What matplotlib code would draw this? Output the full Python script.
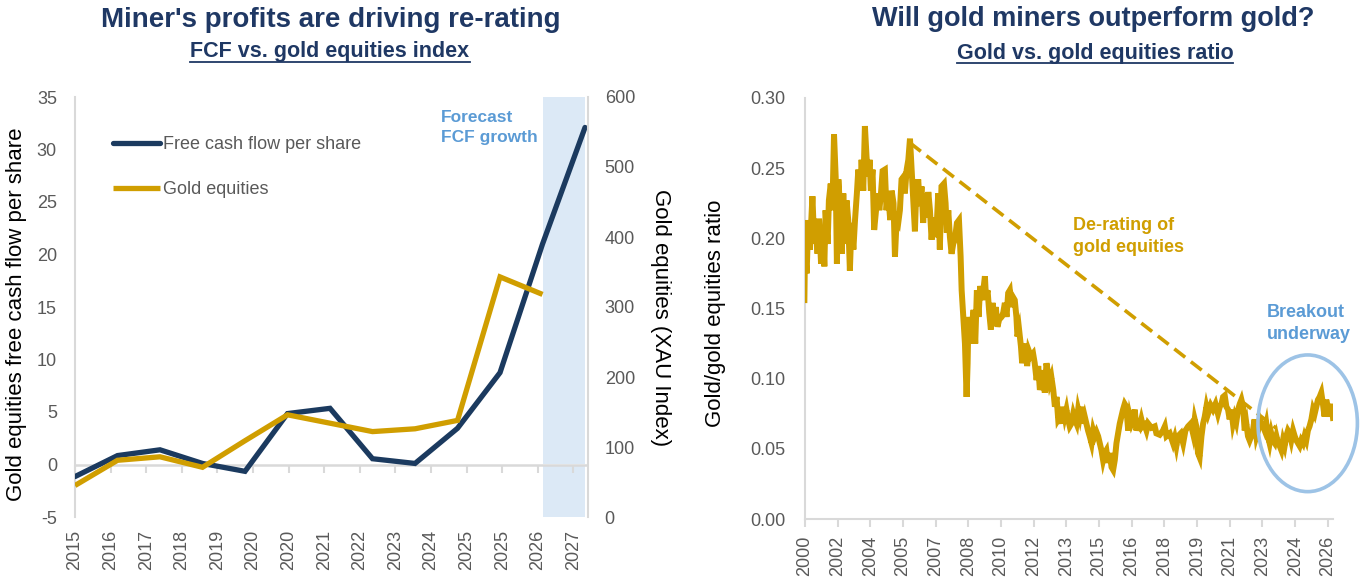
import numpy as np
import matplotlib.pyplot as plt
from matplotlib import font_manager
from matplotlib.patches import Ellipse
from matplotlib.lines import Line2D

names = {f.name for f in font_manager.fontManager.ttflist}
narrow = 'Liberation Sans Narrow' if 'Liberation Sans Narrow' in names else 'Liberation Sans'
plt.rcParams['font.family'] = ['Liberation Sans', 'DejaVu Sans']
plt.rcParams['axes.unicode_minus'] = False

NAVY = '#1B3A5F'
GOLD = '#D09E00'
TITLE = '#1F3864'
LBLUE = '#5B9BD5'
GREY = '#595959'
SPINE = '#D9D9D9'

# ---- left chart data
fcf_years = np.arange(2015, 2028)
fcf = [-1.15, 0.85, 1.4, 0.1, -0.65, 4.85, 5.35, 0.55, 0.1, 3.45, 8.75, 21.0, 32.1]
eq_years = np.arange(2015, 2027)
gold_eq = [45, 81, 86, 71, 109, 146, 134, 122, 126, 138, 343, 318]
left_labels = ['2015', '2016', '2017', '2018', '2019', '2020', '2020', '2021',
               '2022', '2023', '2024', '2025', '2025', '2026', '2027']

# ---- right chart data (gold / gold equities ratio)
ratio_years = [
    2000.87, 2000.90, 2000.98, 2001.06, 2001.14, 2001.26, 2001.35, 2001.42, 2001.51, 2001.58,
    2001.68, 2001.76, 2001.84, 2001.90, 2002.00, 2002.06, 2002.15, 2002.23, 2002.31, 2002.39,
    2002.45, 2002.52, 2002.60, 2002.68, 2002.76, 2002.84, 2002.92, 2003.00, 2003.08, 2003.16,
    2003.25, 2003.33, 2003.42, 2003.49, 2003.59, 2003.65, 2003.73, 2003.81, 2003.89, 2003.97,
    2004.04, 2004.10, 2004.18, 2004.26, 2004.35, 2004.43, 2004.51, 2004.59, 2004.67, 2004.78,
    2004.86, 2004.94, 2005.04, 2005.11, 2005.20, 2005.27, 2005.35, 2005.43, 2005.51, 2005.59,
    2005.69, 2005.75, 2005.84, 2005.92, 2006.00, 2006.08, 2006.16, 2006.24, 2006.30, 2006.40,
    2006.48, 2006.56, 2006.64, 2006.72, 2006.81, 2006.89, 2006.97, 2007.05, 2007.13, 2007.21,
    2007.29, 2007.37, 2007.45, 2007.53, 2007.65, 2007.73, 2007.79, 2007.86, 2007.94, 2008.02,
    2008.10, 2008.18, 2008.28, 2008.38, 2008.46, 2008.51, 2008.59, 2008.67, 2008.75, 2008.80,
    2008.84, 2008.93, 2008.99, 2009.09, 2009.17, 2009.25, 2009.33, 2009.41, 2009.51, 2009.64,
    2009.69, 2009.77, 2009.85, 2009.93, 2010.01, 2010.09, 2010.17, 2010.25, 2010.33, 2010.45,
    2010.53, 2010.61, 2010.69, 2010.77, 2010.85, 2010.93, 2011.01, 2011.09, 2011.17, 2011.22,
    2011.30, 2011.39, 2011.45, 2011.53, 2011.61, 2011.69, 2011.77, 2011.87, 2011.98, 2012.06,
    2012.15, 2012.23, 2012.31, 2012.39, 2012.47, 2012.55, 2012.63, 2012.71, 2012.79, 2012.87,
    2012.96, 2013.04, 2013.12, 2013.20, 2013.28, 2013.36, 2013.44, 2013.52, 2013.60, 2013.68,
    2013.76, 2013.84, 2013.93, 2014.01, 2014.09, 2014.17, 2014.25, 2014.33, 2014.41, 2014.49,
    2014.57, 2014.65, 2014.73, 2014.82, 2014.90, 2014.98, 2015.06, 2015.14, 2015.22, 2015.30,
    2015.38, 2015.46, 2015.54, 2015.62, 2015.71, 2015.79, 2015.87, 2015.95, 2016.03, 2016.11,
    2016.19, 2016.27, 2016.35, 2016.43, 2016.51, 2016.60, 2016.68, 2016.76, 2016.84, 2016.92,
    2017.00, 2017.08, 2017.16, 2017.24, 2017.32, 2017.40, 2017.49, 2017.57, 2017.73, 2017.89,
    2017.97, 2018.13, 2018.29, 2018.38, 2018.46, 2018.62, 2018.78, 2018.86, 2018.94, 2019.02,
    2019.15, 2019.27, 2019.38, 2019.51, 2019.64, 2019.75, 2019.83, 2019.91, 2019.99, 2020.07,
    2020.16, 2020.24, 2020.32, 2020.40, 2020.48, 2020.61, 2020.72, 2020.84, 2020.96, 2021.05,
    2021.13, 2021.21, 2021.29, 2021.37, 2021.45, 2021.53, 2021.61, 2021.69, 2021.77, 2021.85,
    2021.94, 2022.02, 2022.10, 2022.18, 2022.26, 2022.34, 2022.42, 2022.50, 2022.58, 2022.66,
    2022.74, 2022.83, 2022.91, 2022.99, 2023.07, 2023.15, 2023.23, 2023.31, 2023.39, 2023.47,
    2023.55, 2023.63, 2023.72, 2023.80, 2023.88, 2023.96, 2024.04, 2024.12, 2024.20, 2024.28,
    2024.36, 2024.44, 2024.52, 2024.61, 2024.69, 2024.77, 2024.85, 2024.93, 2025.01, 2025.09,
    2025.17, 2025.25, 2025.33, 2025.41, 2025.50, 2025.58, 2025.66, 2025.74, 2025.82, 2025.90,
    2025.98, 2026.06, 2026.14, 2026.22, 2026.30, 2026.38, 2026.47, 2026.55,
]
ratio = [
    0.156, 0.192, 0.175, 0.213, 0.192, 0.230, 0.196, 0.213, 0.189, 0.214,
    0.182, 0.206, 0.180, 0.220, 0.196, 0.227, 0.239, 0.220, 0.274, 0.244,
    0.182, 0.242, 0.223, 0.189, 0.232, 0.196, 0.227, 0.213, 0.177, 0.211,
    0.192, 0.213, 0.232, 0.249, 0.234, 0.256, 0.234, 0.280, 0.258, 0.244,
    0.256, 0.234, 0.249, 0.206, 0.220, 0.232, 0.220, 0.232, 0.248, 0.249,
    0.220, 0.232, 0.213, 0.234, 0.225, 0.187, 0.213, 0.211, 0.220, 0.242,
    0.244, 0.232, 0.249, 0.256, 0.271, 0.249, 0.227, 0.205, 0.232, 0.242,
    0.223, 0.237, 0.211, 0.232, 0.215, 0.233, 0.220, 0.199, 0.215, 0.201,
    0.206, 0.232, 0.192, 0.237, 0.239, 0.225, 0.204, 0.220, 0.201, 0.189,
    0.196, 0.199, 0.211, 0.213, 0.187, 0.163, 0.144, 0.125, 0.087, 0.111,
    0.144, 0.125, 0.135, 0.149, 0.125, 0.163, 0.144, 0.166, 0.156, 0.173,
    0.158, 0.163, 0.147, 0.135, 0.154, 0.144, 0.151, 0.137, 0.142, 0.144,
    0.147, 0.154, 0.144, 0.161, 0.163, 0.151, 0.158, 0.156, 0.144, 0.130,
    0.135, 0.123, 0.111, 0.120, 0.125, 0.109, 0.120, 0.116, 0.118, 0.111,
    0.099, 0.109, 0.092, 0.097, 0.106, 0.090, 0.111, 0.104, 0.097, 0.101,
    0.092, 0.080, 0.087, 0.071, 0.073, 0.068, 0.080, 0.073, 0.078, 0.071,
    0.066, 0.068, 0.075, 0.071, 0.068, 0.078, 0.073, 0.080, 0.068, 0.073,
    0.068, 0.063, 0.059, 0.054, 0.063, 0.059, 0.062, 0.059, 0.054, 0.049,
    0.042, 0.047, 0.049, 0.040, 0.047, 0.037, 0.035, 0.042, 0.054, 0.061,
    0.068, 0.073, 0.078, 0.082, 0.080, 0.063, 0.073, 0.068, 0.071, 0.078,
    0.063, 0.068, 0.066, 0.071, 0.066, 0.067, 0.063, 0.068, 0.065, 0.066,
    0.061, 0.060, 0.063, 0.066, 0.059, 0.061, 0.054, 0.058, 0.052, 0.059,
    0.061, 0.054, 0.063, 0.066, 0.068, 0.061, 0.071, 0.066, 0.047, 0.044,
    0.059, 0.068, 0.073, 0.080, 0.075, 0.081, 0.078, 0.082, 0.075, 0.080,
    0.082, 0.087, 0.088, 0.080, 0.078, 0.071, 0.078, 0.068, 0.073, 0.069,
    0.078, 0.082, 0.085, 0.080, 0.063, 0.068, 0.059, 0.056, 0.059, 0.063,
    0.071, 0.059, 0.063, 0.071, 0.068, 0.066, 0.063, 0.068, 0.059, 0.054,
    0.061, 0.056, 0.054, 0.059, 0.054, 0.052, 0.049, 0.056, 0.052, 0.059,
    0.063, 0.061, 0.056, 0.063, 0.059, 0.056, 0.054, 0.052, 0.056, 0.054,
    0.059, 0.056, 0.063, 0.066, 0.071, 0.078, 0.075, 0.080, 0.085, 0.087,
    0.090, 0.082, 0.073, 0.085, 0.080, 0.073, 0.082, 0.072,
]
right_labels = ['2000', '2002', '2004', '2005', '2007', '2008', '2010', '2012', '2013',
                '2015', '2016', '2018', '2019', '2021', '2023', '2024', '2026']
trend_x = [2006.0, 2023.8]
trend_y = [0.268, 0.0646]

W, H = 1363, 582
fig = plt.figure(figsize=(W / 100, H / 100), dpi=100)

def box(l, t, r, b):
    return [l / W, 1 - b / H, (r - l) / W, (b - t) / H]

# ================= left chart
ax1 = fig.add_axes(box(75, 97, 588, 517))
ax2 = ax1.twinx()

ax1.axvspan(2026.0, 2027.0, color='#DCE9F6', lw=0, zorder=0)
ax1.axhline(0, color=SPINE, lw=1.8, zorder=1)
ax1.plot(fcf_years, fcf, color=NAVY, lw=3.8, solid_capstyle='round',
         solid_joinstyle='miter', zorder=3, label='Free cash flow per share')
ax2.plot(eq_years, gold_eq, color=GOLD, lw=3.8, solid_capstyle='butt',
         solid_joinstyle='miter', zorder=3, label='Gold equities')

ax1.set_xlim(2015, 2027.07)
ax1.set_ylim(-5, 35)
ax2.set_ylim(0, 600)
ax1.set_yticks(range(-5, 36, 5))
ax2.set_yticks(range(0, 601, 100))

left_ticks = [2015 + i * 0.8376 for i in range(len(left_labels))]
ax1.set_xticks(left_ticks)
ax1.set_xticklabels(left_labels, rotation=90)
ax1.tick_params(axis='x', length=0, pad=9, labelsize=13, labelcolor=GREY)
ax1.tick_params(axis='y', length=0, pad=13, labelsize=13, labelcolor=GREY)
ax2.tick_params(axis='y', length=0, pad=12, labelsize=13, labelcolor=GREY)

sec = ax1.secondary_xaxis(5 / 40)
sec.set_xticks(left_ticks)
sec.set_xticklabels([])
sec.tick_params(direction='out', length=6, width=1.5, color=SPINE)
sec.spines['bottom'].set_visible(False)

for a in (ax1, ax2):
    for s in a.spines.values():
        s.set_visible(False)
ax1.spines['left'].set_visible(True)
ax1.spines['left'].set_color(SPINE)
ax1.spines['left'].set_linewidth(1.5)
ax2.spines['right'].set_visible(True)
ax2.spines['right'].set_color(SPINE)
ax2.spines['right'].set_linewidth(1.5)

h1, l1 = ax1.get_legend_handles_labels()
h2, l2 = ax2.get_legend_handles_labels()
leg = ax2.legend(h1 + h2, l1 + l2, loc='upper left', bbox_to_anchor=(0.043, 0.945),
                 frameon=False, fontsize=13, handlelength=2.6, handletextpad=0.15,
                 labelspacing=1.55, labelcolor=GREY)

ax1.text(2023.6, 32.1, 'Forecast\nFCF growth', color=LBLUE, fontsize=12.5,
         fontweight='bold', ha='left', va='center', linespacing=1.4, zorder=5)

fig.text(17 / W, 1 - 314 / H, 'Gold equities free cash flow per share', rotation=90,
         ha='center', va='center', fontsize=16, color='black')
fig.text(661 / W, 1 - 318 / H, 'Gold equities (XAU Index)', rotation=-90,
         ha='center', va='center', fontsize=16, color='black')

# ================= right chart
ax3 = fig.add_axes(box(805, 98, 1333, 519))
ax3.plot(ratio_years, ratio, color=GOLD, lw=4.3, solid_joinstyle='miter', zorder=3)
ax3.plot(trend_x, trend_y, color=GOLD, lw=2.6, dashes=(3.8, 2.0), zorder=2)
ax3.add_patch(Ellipse((2025.32, 0.0682), 4.83, 0.0974, fill=False,
                      edgecolor='#9DC3E6', lw=2.6, clip_on=False, zorder=4))
ax3.text(2013.9, 0.2015, 'De-rating of\ngold equities', color=GOLD, fontsize=13,
         fontweight='bold', ha='left', va='center', linespacing=1.35)
ax3.text(2023.33, 0.1395, 'Breakout\nunderway', color=LBLUE, fontsize=13,
         fontweight='bold', ha='left', va='center', linespacing=1.35)

ax3.set_xlim(2000.9, 2026.55)
ax3.set_ylim(0, 0.30)
ax3.set_yticks(np.arange(0, 0.301, 0.05))
ax3.set_yticklabels(['%.2f' % v for v in np.arange(0, 0.301, 0.05)])
right_ticks = [2000.9 + i * 1.5875 for i in range(len(right_labels))]
ax3.set_xticks(right_ticks)
ax3.set_xticklabels(right_labels, rotation=90)
ax3.tick_params(axis='x', direction='out', length=6, width=1.5, color=SPINE,
                pad=6, labelsize=13, labelcolor=GREY)
ax3.tick_params(axis='y', length=0, pad=14, labelsize=13, labelcolor=GREY)
for k in ('top', 'right'):
    ax3.spines[k].set_visible(False)
for k in ('left', 'bottom'):
    ax3.spines[k].set_color(SPINE)
    ax3.spines[k].set_linewidth(1.5)

fig.text(716 / W, 1 - 313 / H, 'Gold/gold equities ratio', rotation=90,
         ha='center', va='center', fontsize=16, color='black')

# ================= titles
titles = [
    (331, 20, "Miner's profits are driving re-rating", 20, False),
    (330, 52, 'FCF vs. gold equities index', 15.5, True),
    (1093, 19, 'Will gold miners outperform gold?', 19.5, False),
    (1095, 53, 'Gold vs. gold equities ratio', 15.5, True),
]
txts = []
for x, y, s, size, ul in titles:
    t = fig.text(x / W, 1 - y / H, s, ha='center', va='center', fontsize=size,
                 fontweight='bold', color=TITLE, family=[narrow, 'DejaVu Sans'])
    txts.append((t, ul))

fig.canvas.draw()
for t, ul in txts:
    if ul:
        bb = t.get_window_extent()
        yline = (bb.y0 + 1) / H
        fig.add_artist(Line2D([bb.x0 / W, bb.x1 / W], [yline, yline],
                              color=TITLE, lw=1.3, transform=fig.transFigure))

fig.savefig('out.png', dpi=100)
